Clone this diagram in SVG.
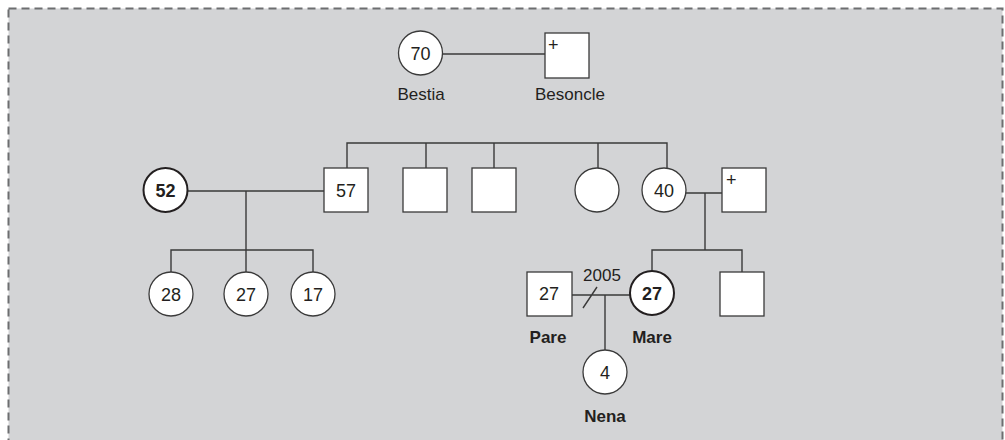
<svg xmlns="http://www.w3.org/2000/svg" width="1005" height="440" viewBox="0 0 1005 440">
<style>
.bg{fill:#d3d4d6;stroke:#6d6e70;stroke-width:2;stroke-dasharray:8 5}
.n{fill:#fff;stroke:#3a3a3a;stroke-width:1.3}
.b{fill:#fff;stroke:#231f20;stroke-width:2}
.l{fill:none;stroke:#3a3a3a;stroke-width:1.4}
text{font-family:"Liberation Sans",Arial,sans-serif;fill:#231f20}
.t{font-size:18px;text-anchor:middle}
.tb{font-size:18px;text-anchor:middle;font-weight:bold}
.lab{font-size:17px;text-anchor:middle}
.labb{font-size:17px;text-anchor:middle;font-weight:bold}
.p{font-size:18px}
</style>
<rect class="bg" x="8.5" y="8.5" width="994" height="460"/>
<g id="connectors">
<path class="l" d="M443 54H545"/>
<path class="l" d="M347 168V143H667V168M426 143V168M494 143V168M598 143V168"/>
<path class="l" d="M188 191H324M246 191V250M171 272V250H313V272M246 250V272"/>
<path class="l" d="M686 193H722M705 193V250M652 272V250H742V272"/>
<path class="l" d="M572 295H630M605 295V350M583 308L597 287"/>
</g>
<g id="bestia"><circle class="n" cx="420.5" cy="53" r="22"/><text class="t" x="420.5" y="60">70</text><text class="lab" x="421" y="100">Bestia</text></g>
<g id="besoncle"><rect class="n" x="545" y="33" width="44" height="45"/><text class="p" x="548" y="51">+</text><text class="lab" x="570" y="100">Besoncle</text></g>
<g id="n52"><circle class="b" cx="165.5" cy="190" r="22"/><text class="tb" x="165.5" y="197">52</text></g>
<g id="n57"><rect class="n" x="324" y="168" width="44" height="44"/><text class="t" x="346" y="197">57</text></g>
<g id="sq2"><rect class="n" x="403" y="168" width="44" height="44"/></g>
<g id="sq3"><rect class="n" x="472" y="168" width="44" height="44"/></g>
<g id="c4"><circle class="n" cx="597" cy="190" r="22"/></g>
<g id="n40"><circle class="n" cx="664" cy="190" r="22"/><text class="t" x="664" y="197">40</text></g>
<g id="sqplus"><rect class="n" x="722" y="168" width="44" height="44"/><text class="p" x="726" y="186">+</text></g>
<g id="n28"><circle class="n" cx="171" cy="294" r="22"/><text class="t" x="171" y="301">28</text></g>
<g id="n27a"><circle class="n" cx="246" cy="294" r="22"/><text class="t" x="246" y="301">27</text></g>
<g id="n17"><circle class="n" cx="313" cy="294" r="22"/><text class="t" x="313" y="301">17</text></g>
<g id="pare"><rect class="n" x="527" y="272" width="45" height="44"/><text class="t" x="549" y="300">27</text><text class="labb" x="548" y="343">Pare</text></g>
<g id="mare"><circle class="b" cx="652" cy="293" r="22"/><text class="tb" x="652" y="300">27</text><text class="labb" x="652" y="343">Mare</text></g>
<g id="sq5"><rect class="n" x="720" y="272" width="44" height="44"/></g>
<g id="nena"><circle class="n" cx="605" cy="372" r="22"/><text class="t" x="605" y="379">4</text><text class="labb" x="605" y="422">Nena</text></g>
<text class="lab" x="602" y="281">2005</text>
</svg>
